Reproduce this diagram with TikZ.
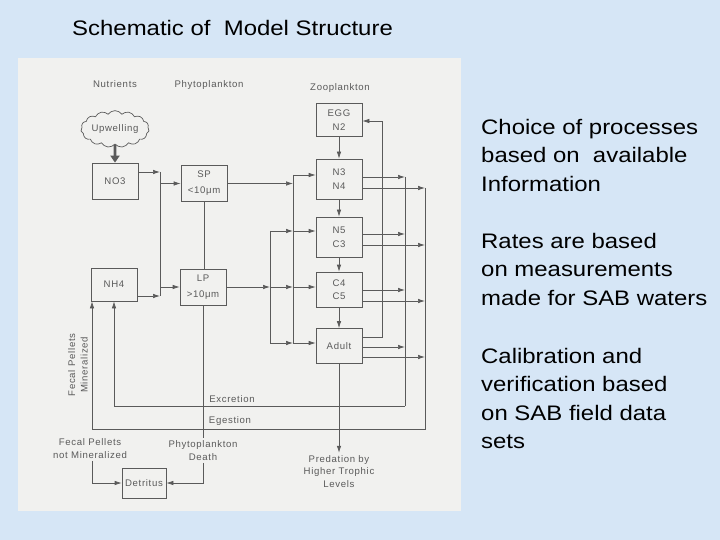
\documentclass[tikz,border=0pt]{standalone}
\usepackage{fontspec}
\setmainfont{Liberation Sans}
\newfontfamily\diagfont[LetterSpace=7]{Liberation Sans}
\newfontfamily\bigfont[FakeStretch=1.14]{Liberation Sans}
\usetikzlibrary{arrows.meta,shapes.symbols}
\definecolor{bgblue}{RGB}{214,230,246}
\definecolor{panel}{RGB}{241,241,239}
\definecolor{ink}{RGB}{90,90,90}
\begin{document}
\begin{tikzpicture}[x=1pt,y=-1pt,
  box/.style={draw=ink, line width=0.7pt, minimum width=46pt, minimum height=36pt, inner sep=1pt, align=center, font=\diagfont\fontsize{9.6}{13.5}\selectfont, text=ink},
  lbl/.style={font=\diagfont\fontsize{9.6}{12.5}\selectfont, text=ink, align=center, inner sep=2.5pt},
  conn/.style={draw=ink, line width=0.7pt},
  arr/.style={conn, -{Latex[length=7pt,width=4.5pt]}},
  big/.style={font=\bigfont\fontsize{21}{28.5}\selectfont, text=black, align=left, inner sep=0pt, anchor=north west},
]
\useasboundingbox (0,0) rectangle (720,540);
\fill[bgblue] (0,0) rectangle (720,540);
\fill[panel] (18,58) rectangle (461,511);

% title and side text
\node[font=\bigfont\fontsize{21}{26}\selectfont, anchor=west, inner sep=0pt] (title) at (72,28) {Schematic of\ \ Model Structure};
\node[big] (t1) at (481,119) {Choice of processes\\based on\ \ available\\Information};
\node[big] (t2) at (481,233) {Rates are based\\on measurements\\made for SAB waters};
\node[big] (t3) at (481,348) {Calibration and\\verification based\\on SAB field data\\sets};

% column headers
\node[lbl] (nut) at (115,84) {Nutrients};
\node[lbl] (phy) at (209,85) {Phytoplankton};
\node[lbl] (zoo) at (340,88) {Zooplankton};

% nutrients
\node[draw=ink, line width=0.7pt, cloud, cloud puffs=15, cloud puff arc=110, aspect=2.2, minimum width=62pt, minimum height=30pt, inner sep=0pt, font=\diagfont\fontsize{9.6}{12}\selectfont, text=ink] (up) at (115,129) {Upwelling};
\node[box] (no3) at (115,181) {NO3};
\node[box, minimum height=33pt] (nh4) at (114,284.5) {NH4};
\draw[draw=ink, line width=2.6pt, -{Triangle[length=7pt,width=9pt]}] (up.south) -- (no3.north);

% phytoplankton
\node[box, font=\diagfont\fontsize{9.6}{16}\selectfont] (sp) at (204,183.5) {SP\\<10μm};
\node[box, font=\diagfont\fontsize{9.6}{16}\selectfont] (lp) at (203,287) {LP\\>10μm};

% zooplankton
\node[box, minimum height=33pt] (egg) at (339,120) {EGG\\N2};
\node[box, minimum height=40pt] (n34) at (339,179) {N3\\N4};
\node[box, minimum height=40pt] (n5c3) at (339,237) {N5\\C3};
\node[box, minimum height=35pt] (c45) at (339,289.5) {C4\\C5};
\node[box, minimum height=35pt] (ad) at (339,346) {Adult};

\node[box, minimum width=44pt, minimum height=30pt] (det) at (144,483) {Detritus};

% labels
\node[lbl] (fp) at (90,448.5) {Fecal Pellets\\not Mineralized};
\node[lbl] (pd) at (203,450.5) {Phytoplankton\\Death};
\node[lbl] (pl) at (339,471.5) {Predation by\\Higher Trophic\\Levels};
\node[lbl, rotate=90] (fm) at (78,365) {Fecal Pellets\\Mineralized};
\node[lbl] (exl) at (232,399) {Excretion};
\node[lbl] (egl) at (230,421) {Egestion};

% nutrient bus
\coordinate (b1a) at (160,172);
\coordinate (b1b) at (160,296);
\draw[arr] (no3.east |- b1a) -- (b1a);
\draw[arr] (nh4.east |- b1b) -- (b1b);
\draw[conn] (b1a) -- (b1b);
\draw[arr] (b1a |- sp.west) -- (sp.west);
\draw[arr] (b1a |- lp.west) -- (lp.west);

% phytoplankton links
\draw[conn] (sp.south) -- (sp.south |- lp.north);
\draw[conn] (lp.south) -- (pd.north);
\draw[arr] (pd.south) |- (det.east);

% grazing buses
\coordinate (c1) at (293,175);
\coordinate (c2) at (293,231);
\coordinate (c3) at (293,287);
\coordinate (c4) at (293,343);
\coordinate (d2) at (270,231);
\coordinate (d3) at (270,287);
\coordinate (d4) at (270,343);
\draw[arr] (sp.east) -- (c1 |- sp.east);
\draw[conn] (c1) -- (c4);
\draw[arr] (lp.east) -- (d3);
\draw[conn] (d2) -- (d4);
\draw[arr] (d2) -- (c2);
\draw[arr] (d3) -- (c3);
\draw[arr] (d4) -- (c4);
\draw[arr] (c1) -- (c1 -| n34.west);
\draw[arr] (c2) -- (c2 -| n5c3.west);
\draw[arr] (c3) -- (c3 -| c45.west);
\draw[arr] (c4) -- (c4 -| ad.west);

% development
\draw[arr] (egg) -- (n34);
\draw[arr] (n34) -- (n5c3);
\draw[arr] (n5c3) -- (c45);
\draw[arr] (c45) -- (ad);
\coordinate (g1) at (382,337);
\coordinate (g2) at (382,121);
\draw[arr] (ad.east |- g1) -- (g1) -- (g2) -- (g2 -| egg.east);
\draw[arr] (ad.south) -- (pl.north);

% excretion
\coordinate (r1) at (405,177);
\coordinate (r2) at (405,234);
\coordinate (r3) at (405,290);
\coordinate (r4) at (405,347);
\coordinate (rb) at (405,406);
\draw[arr] (n34.east |- r1) -- (r1);
\draw[arr] (n5c3.east |- r2) -- (r2);
\draw[arr] (c45.east |- r3) -- (r3);
\draw[arr] (ad.east |- r4) -- (r4);
\draw[conn] (r1) -- (rb);
\draw[arr] (rb) -| (nh4.south);

% egestion
\coordinate (s1) at (425,188);
\coordinate (s2) at (425,245);
\coordinate (s3) at (425,301);
\coordinate (s4) at (425,357);
\coordinate (sb) at (425,429);
\coordinate (eg) at (92,429);
\draw[arr] (n34.east |- s1) -- (s1);
\draw[arr] (n5c3.east |- s2) -- (s2);
\draw[arr] (c45.east |- s3) -- (s3);
\draw[arr] (ad.east |- s4) -- (s4);
\draw[conn] (s1) -- (sb) -- (eg);
\draw[arr] (eg) -- (eg |- nh4.south);
\draw[arr] (fp.south -| eg) |- (det.west);
\end{tikzpicture}
\end{document}
